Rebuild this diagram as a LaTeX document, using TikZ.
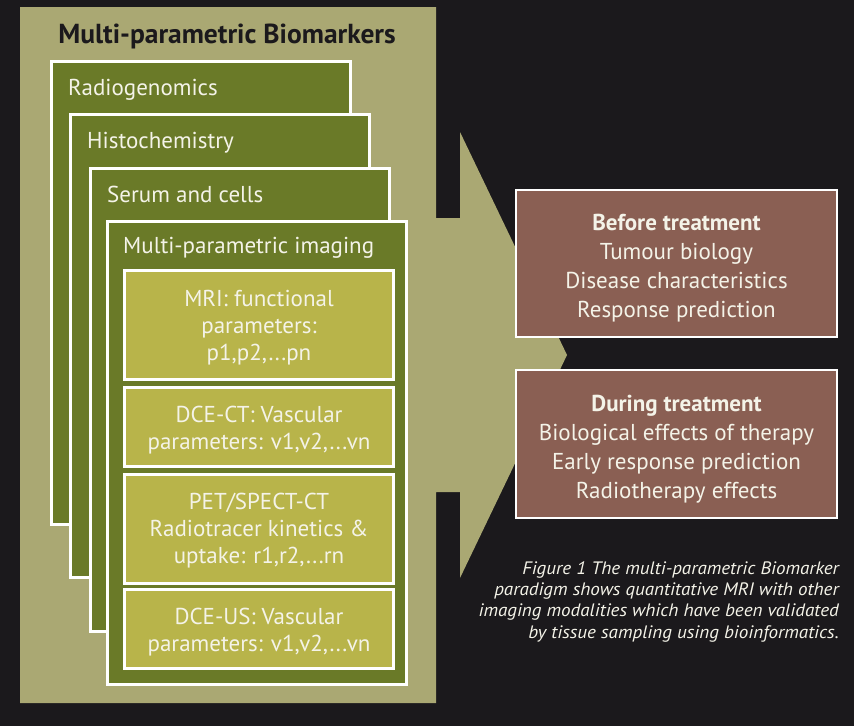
\documentclass[tikz,border=0pt]{standalone}
\usepackage{fontspec}
\setmainfont{PT Sans}
\newfontfamily\captionfont[FakeStretch=1.06]{PT Sans}
\definecolor{bg}{HTML}{1B191C}
\definecolor{khaki}{HTML}{AAA873}
\definecolor{olive}{HTML}{6A7A28}
\definecolor{mustard}{HTML}{B8B44A}
\definecolor{brownbox}{HTML}{8A5F53}
\definecolor{lighttext}{HTML}{F4F3E8}
\tikzset{
  stackbox/.style={draw=white, fill=olive, line width=3pt, minimum width=299pt, minimum height=463pt, inner sep=0pt},
  stacklabel/.style={anchor=base west, inner sep=0pt, text=lighttext, font=\fontsize{23}{27}\selectfont},
  modbox/.style={draw=white, fill=mustard, line width=3pt, minimum width=269pt, inner sep=0pt},
  resbox/.style={draw=white, fill=brownbox, line width=2pt, minimum width=321pt, inner sep=0pt},
  restext/.style={inner sep=0pt, align=center, text=lighttext, font=\fontsize{23}{29}\selectfont},
}
\begin{document}
\begin{tikzpicture}[x=1pt,y=-1pt]
\useasboundingbox (0,0) rectangle (854,726);
\fill[bg] (0,0) rectangle (854,726);
% panel with arrow
\fill[khaki] (20,7) -- (436,7) -- (436,218) -- (460,218) -- (460,132) -- (567,355)
  -- (460,578) -- (460,492) -- (436,492) -- (436,703) -- (20,703) -- cycle;
\node[anchor=base, inner sep=0pt, text=bg, font=\fontsize{27.5}{32}\selectfont\bfseries] (title) at (227,43) {Multi-parametric Biomarkers};
% stacked boxes
\node[stackbox] (radio) at (201,293) {};
\node[stacklabel] (radiol) at (68,95) {Radiogenomics};
\node[stackbox] (histo) at (220,346) {};
\node[stacklabel] (histol) at (87,148) {Histochemistry};
\node[stackbox] (serum) at (240,400) {};
\node[stacklabel] (seruml) at (107,202) {Serum and cells};
\node[stackbox] (imaging) at (257,452.5) {};
\node[stacklabel] (imagingl) at (123,253) {Multi-parametric imaging};
% modality boxes
\node[modbox, minimum height=109pt] (mri) at (259,325) {};
\node[restext, font=\fontsize{23}{27}\selectfont] (mrit) at (259,328) {MRI: functional\\parameters:\\p1,p2,...pn};
\node[modbox, minimum height=79pt] (dcect) at (259,427) {};
\node[restext, font=\fontsize{23}{27}\selectfont] (dcectt) at (259,430) {DCE-CT: Vascular\\parameters: v1,v2,...vn};
\node[modbox, minimum height=109pt] (pet) at (259,529) {};
\node[restext, font=\fontsize{23}{27}\selectfont] (pett) at (259,531) {PET/SPECT-CT\\Radiotracer kinetics \&\\uptake: r1,r2,...rn};
\node[modbox, minimum height=79pt] (dceus) at (259,629) {};
\node[restext, font=\fontsize{23}{27}\selectfont] (dceust) at (259,632) {DCE-US: Vascular\\parameters: v1,v2,...vn};
% result boxes
\node[resbox, minimum height=147pt] (before) at (676.5,263.5) {};
\node[restext] (beforet) at (676.5,268.5) {\textbf{Before treatment}\\Tumour biology\\Disease characteristics\\Response prediction};
\node[resbox, minimum height=148pt] (during) at (676.5,444) {};
\node[restext] (duringt) at (676.5,449) {\textbf{During treatment}\\Biological effects of therapy\\Early response prediction\\Radiotherapy effects};
% caption
\node[anchor=base east, inner sep=0pt, align=right, text=lighttext, font=\captionfont\fontsize{18}{21.2}\selectfont\itshape] (caption) at (839,638) {Figure 1 The multi-parametric Biomarker\\paradigm shows quantitative MRI with other\\imaging modalities which have been validated\\by tissue sampling using bioinformatics.};
\end{tikzpicture}
\end{document}
